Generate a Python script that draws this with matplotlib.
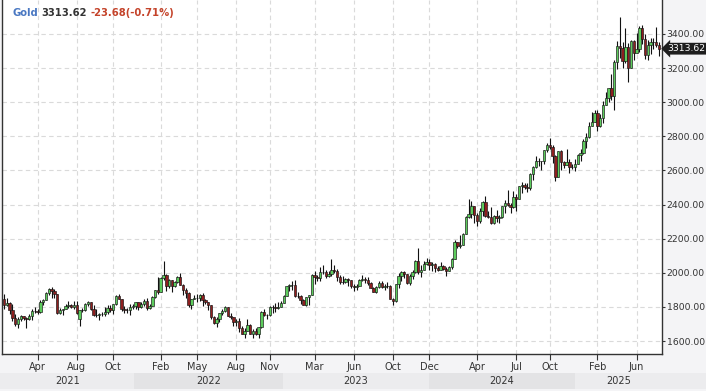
import matplotlib
matplotlib.use("Agg")
import numpy as np
import matplotlib.pyplot as plt
from matplotlib import transforms
from matplotlib.patches import Rectangle

# weekly gold candles, week of 2021-02-01 .. week of 2025-07-28
opens = [
    # 2021
    1848, 1813, 1823, 1784, 1734, 1700, 1727, 1745, 1733, 1729, 1744, 1777, 1777, 1768, 1831, 1843,
    1881, 1905, 1891, 1877, 1764, 1781, 1787, 1808, 1812, 1802, 1814, 1730, 1780, 1781, 1818, 1827,
    1787, 1754, 1750, 1761, 1757, 1768, 1793, 1783, 1818, 1865, 1846, 1788, 1783, 1783, 1798, 1808,
    # 2022
    1829, 1797, 1818, 1835, 1791, 1808, 1860, 1898, 1889, 1970, 1988, 1921, 1958, 1925, 1945, 1975,
    1931, 1897, 1883, 1811, 1846, 1853, 1851, 1871, 1840, 1827, 1811, 1742, 1703, 1727, 1766, 1775,
    1802, 1747, 1738, 1712, 1716, 1675, 1643, 1661, 1695, 1644, 1657, 1644, 1681, 1771, 1751, 1754,
    1797, 1797, 1793, 1798,
    # 2023
    1824, 1865, 1920, 1926, 1928, 1865, 1865, 1842, 1811, 1856, 1868, 1989, 1978, 1969, 2007, 2004,
    1983, 1990, 2017, 2011, 1977, 1946, 1948, 1961, 1958, 1921, 1919, 1925, 1955, 1962, 1959, 1943,
    1913, 1889, 1915, 1940, 1919, 1924, 1925, 1849, 1833, 1932, 1981, 2006, 1992, 1940, 1981, 2002,
    2072, 2004, 2019, 2053,
    # 2024
    2063, 2045, 2049, 2029, 2018, 2039, 2024, 2013, 2035, 2083, 2179, 2155, 2165, 2230, 2329, 2344,
    2391, 2337, 2301, 2360, 2415, 2334, 2327, 2293, 2333, 2321, 2326, 2392, 2411, 2400, 2386, 2443,
    2431, 2507, 2512, 2503, 2497, 2577, 2622, 2658, 2653, 2657, 2721, 2747, 2737, 2685, 2563, 2716,
    2650, 2633, 2648, 2622, 2621,
    # 2025
    2640, 2690, 2703, 2770, 2798, 2861, 2883, 2936, 2858, 2910, 2984, 3023, 3084, 3037, 3237, 3327,
    3319, 3240, 3325, 3202, 3357, 3289, 3310, 3432, 3368, 3274, 3337, 3355, 3350, 3337,
]
highs = [
    1875, 1855, 1826, 1815, 1760, 1740, 1755, 1745, 1740, 1758, 1790, 1797, 1790, 1843, 1845, 1890,
    1912, 1916, 1903, 1877, 1795, 1790, 1818, 1834, 1815, 1832, 1832, 1782, 1795, 1823, 1834, 1828,
    1809, 1787, 1765, 1770, 1800, 1814, 1810, 1818, 1868, 1877, 1848, 1808, 1793, 1815, 1815, 1831,
    1830, 1830, 1848, 1853, 1815, 1865, 1902, 1974, 1975, 2070, 1990, 1966, 1960, 1950, 1982, 1998,
    1936, 1909, 1885, 1849, 1870, 1874, 1877, 1879, 1847, 1830, 1812, 1745, 1738, 1767, 1788, 1808,
    1802, 1765, 1740, 1729, 1735, 1688, 1676, 1730, 1697, 1670, 1675, 1683, 1774, 1787, 1758, 1805,
    1810, 1825, 1830, 1833,
    1870, 1922, 1937, 1949, 1960, 1890, 1870, 1847, 1858, 1870, 1990, 2009, 1987, 2032, 2048, 2015,
    2009, 2079, 2048, 2020, 1985, 1983, 1971, 1971, 1959, 1933, 1935, 1963, 1987, 1975, 1974, 1946,
    1918, 1924, 1953, 1953, 1932, 1947, 1926, 1853, 1933, 1997, 2009, 2009, 1993, 1993, 2017, 2075,
    2148, 2047, 2070, 2088,
    2079, 2062, 2055, 2037, 2065, 2045, 2032, 2041, 2088, 2195, 2182, 2223, 2236, 2330, 2431, 2418,
    2392, 2353, 2378, 2422, 2450, 2364, 2387, 2339, 2368, 2338, 2392, 2424, 2484, 2412, 2477, 2460,
    2509, 2531, 2528, 2529, 2586, 2625, 2685, 2672, 2658, 2722, 2758, 2790, 2750, 2690, 2716, 2721,
    2658, 2726, 2666, 2639, 2665,
    2697, 2725, 2786, 2817, 2886, 2942, 2955, 2956, 2930, 3005, 3057, 3086, 3168, 3245, 3358, 3500,
    3352, 3435, 3345, 3366, 3365, 3403, 3446, 3452, 3398, 3365, 3375, 3375, 3439, 3352,
]
lows = [
    1785, 1808, 1760, 1717, 1687, 1676, 1718, 1722, 1677, 1723, 1723, 1763, 1756, 1765, 1809, 1840,
    1870, 1855, 1855, 1761, 1761, 1750, 1785, 1794, 1794, 1790, 1759, 1690, 1772, 1778, 1806, 1782,
    1745, 1738, 1721, 1746, 1745, 1760, 1771, 1759, 1814, 1845, 1778, 1762, 1766, 1753, 1790, 1789,
    1783, 1792, 1805, 1780, 1788, 1806, 1850, 1878, 1889, 1960, 1895, 1910, 1890, 1915, 1940, 1930,
    1872, 1850, 1797, 1787, 1845, 1828, 1836, 1805, 1816, 1784, 1732, 1697, 1681, 1712, 1754, 1771,
    1745, 1728, 1688, 1690, 1654, 1640, 1615, 1660, 1640, 1618, 1638, 1616, 1675, 1747, 1730, 1744,
    1765, 1773, 1785, 1797,
    1824, 1865, 1896, 1900, 1861, 1855, 1819, 1809, 1805, 1809, 1868, 1935, 1949, 1950, 1992, 1969,
    1974, 1982, 2000, 1951, 1937, 1932, 1940, 1925, 1910, 1893, 1902, 1923, 1953, 1942, 1928, 1911,
    1885, 1884, 1913, 1913, 1901, 1913, 1846, 1810, 1831, 1908, 1953, 1970, 1932, 1931, 1965, 2001,
    1995, 1973, 2016, 2046,
    2017, 2013, 2002, 2010, 2015, 2015, 1984, 2011, 2024, 2083, 2146, 2146, 2165, 2228, 2323, 2324,
    2291, 2277, 2291, 2333, 2325, 2323, 2287, 2286, 2295, 2293, 2319, 2350, 2393, 2353, 2381, 2364,
    2431, 2470, 2492, 2472, 2485, 2546, 2616, 2625, 2603, 2640, 2708, 2725, 2643, 2537, 2563, 2605,
    2613, 2630, 2583, 2607, 2597,
    2635, 2656, 2696, 2730, 2790, 2861, 2882, 2833, 2856, 2880, 2982, 3000, 3015, 2957, 3194, 3260,
    3202, 3228, 3120, 3202, 3245, 3289, 3293, 3340, 3255, 3247, 3282, 3310, 3325, 3268,
]
closes = [
    1813, 1823, 1784, 1734, 1700, 1727, 1745, 1733, 1729, 1744, 1777, 1777, 1768, 1831, 1843, 1881,
    1905, 1891, 1877, 1764, 1781, 1787, 1808, 1812, 1802, 1814, 1763, 1780, 1781, 1818, 1827, 1787,
    1754, 1750, 1761, 1757, 1768, 1793, 1783, 1818, 1865, 1846, 1788, 1783, 1783, 1798, 1808, 1829,
    1797, 1818, 1835, 1791, 1808, 1860, 1898, 1889, 1970, 1988, 1921, 1958, 1925, 1945, 1975, 1931,
    1897, 1883, 1811, 1846, 1853, 1851, 1871, 1840, 1827, 1811, 1742, 1703, 1727, 1766, 1775, 1802,
    1747, 1738, 1712, 1716, 1675, 1643, 1661, 1695, 1644, 1657, 1644, 1681, 1771, 1751, 1754, 1797,
    1797, 1793, 1798, 1824,
    1865, 1920, 1926, 1928, 1865, 1865, 1842, 1811, 1856, 1868, 1989, 1978, 1969, 2007, 2004, 1983,
    1990, 2017, 2011, 1977, 1946, 1948, 1961, 1958, 1921, 1919, 1925, 1955, 1962, 1959, 1943, 1913,
    1889, 1915, 1940, 1919, 1924, 1925, 1849, 1833, 1932, 1981, 2006, 1992, 1940, 1981, 2002, 2072,
    2004, 2019, 2053, 2063,
    2045, 2049, 2029, 2018, 2039, 2024, 2013, 2035, 2083, 2179, 2155, 2165, 2230, 2329, 2344, 2391,
    2337, 2301, 2360, 2415, 2334, 2327, 2293, 2333, 2321, 2326, 2392, 2411, 2400, 2386, 2443, 2431,
    2507, 2512, 2503, 2497, 2577, 2622, 2658, 2653, 2657, 2721, 2747, 2737, 2685, 2563, 2716, 2650,
    2633, 2648, 2622, 2621, 2640,
    2690, 2703, 2770, 2798, 2861, 2883, 2936, 2858, 2910, 2984, 3023, 3084, 3037, 3237, 3327, 3319,
    3240, 3325, 3202, 3357, 3289, 3310, 3432, 3368, 3274, 3337, 3355, 3350, 3337, 3313.62,
]

# month labels and the candle index they sit under
month_labels = ['Apr', 'Aug', 'Oct', 'Feb', 'May', 'Aug', 'Nov', 'Mar', 'Jun',
                'Oct', 'Dec', 'Apr', 'Jul', 'Oct', 'Feb', 'Jun']
month_pos = [12, 26, 39, 56, 69, 83, 95, 111, 125, 139, 152, 169, 183, 195, 212, 226]

years = ['2021', '2022', '2023', '2024', '2025']
year_edges = [-1.5, 46.4, 99.6, 151.8, 203.9, 251]

last_price = 3313.62
change = -23.68
change_pct = -0.71

BG = '#f4f4f6'
TXT = '#333333'


def main():
    o = np.array(opens, float)
    h = np.array(highs, float)
    l = np.array(lows, float)
    c = np.array(closes, float)
    x = np.arange(len(c))

    fig = plt.figure(figsize=(7.06, 3.91), dpi=100, facecolor=BG)
    ax = fig.add_axes([2 / 706, 37 / 391, 660 / 706, 354 / 391])
    ax.set_facecolor('white')

    up = c >= o
    body_col = np.where(up, '#5ccc5c', '#8e1f1f')
    ax.vlines(x, l, h, color='#111111', linewidth=0.8, zorder=2)
    ax.bar(x, np.maximum(np.abs(c - o), 1.5), bottom=np.minimum(o, c), width=0.86,
           color=body_col, edgecolor='#151515', linewidth=0.45, zorder=3)

    ax.set_xlim(-0.7, 235.1)
    ax.set_ylim(1524, 3599)

    ax.yaxis.tick_right()
    ax.set_yticks(np.arange(1600, 3401, 200))
    ax.set_yticklabels(['%.2f' % v for v in np.arange(1600, 3401, 200)])
    ax.set_xticks(month_pos)
    ax.set_xticklabels(month_labels)
    ax.tick_params(axis='y', length=2.5, pad=0.8, labelsize=6.7, colors=TXT)
    ax.tick_params(axis='x', length=4, pad=2, labelsize=7, colors=TXT)

    ax.grid(True, color='#dadada', linestyle=(0, (4, 3)), linewidth=0.8)
    ax.set_axisbelow(True)
    ax.spines['top'].set_visible(False)
    for s in ('left', 'right', 'bottom'):
        ax.spines[s].set_color('#333333')
        ax.spines[s].set_linewidth(1)

    # year band under the month labels
    trans = transforms.blended_transform_factory(ax.transData, fig.transFigure)
    x0, x1 = ax.get_xlim()
    for i, yr in enumerate(years):
        a, b = year_edges[i], year_edges[i + 1]
        col = '#e3e3e5' if i % 2 else '#ececee'
        ax.add_patch(Rectangle((a, 2 / 391), b - a, 16 / 391, transform=trans,
                               facecolor=col, edgecolor='none', clip_on=False))
        mid = (max(a, x0) + min(b, x1)) / 2
        ax.text(mid, 10 / 391, yr, transform=trans, ha='center', va='center',
                fontsize=7, color=TXT, clip_on=False)

    # last price tag
    tag_trans = transforms.blended_transform_factory(ax.transAxes, ax.transData)
    ax.text(1.0085, last_price, '%.2f' % last_price, transform=tag_trans, ha='left', va='center',
            fontsize=6.7, color='white', clip_on=False,
            bbox=dict(boxstyle='larrow,pad=0.15', facecolor='#1e1e1e', edgecolor='none'))

    # header: name, price, change
    parts = [('Gold', '#4a78c2'), ('%.2f' % last_price, '#333333'),
             ('%.2f(%.2f%%)' % (change, change_pct), '#c4432a')]
    xpos = 12
    renderer = fig.canvas.get_renderer()
    for txt, col in parts:
        t = fig.text(xpos / 706, 1 - 13 / 391, txt, color=col, fontsize=7.2,
                     fontweight='bold', va='center', ha='left')
        bb = t.get_window_extent(renderer=renderer)
        xpos = bb.x1 + 3.5

    fig.savefig('out.png', dpi=100, facecolor=BG)


if __name__ == '__main__':
    main()
